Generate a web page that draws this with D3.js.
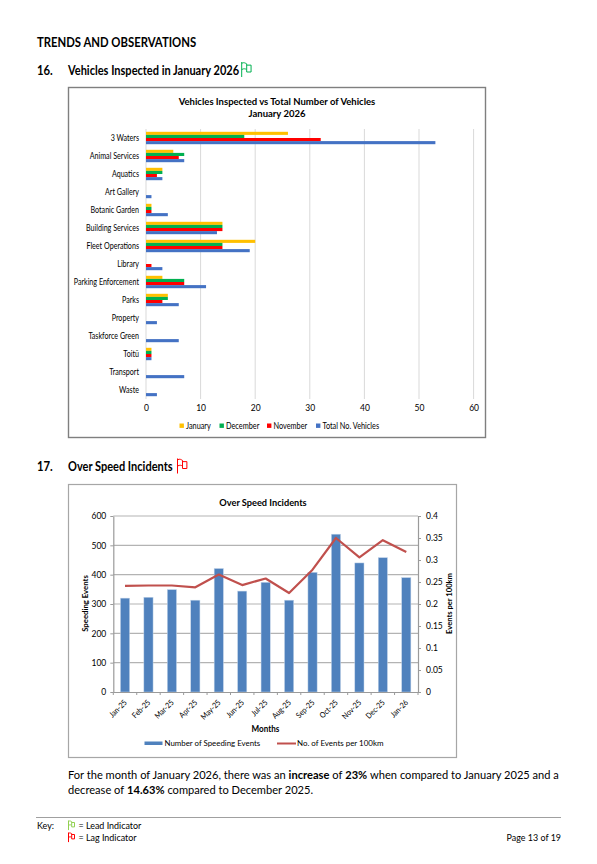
<!DOCTYPE html>
<html><head><meta charset="utf-8">
<script src="https://cdn.jsdelivr.net/npm/d3@7"></script>
<style>
html,body{margin:0;padding:0;background:#fff}
svg{display:block}
text{font-family:Lato,"Open Sans",sans-serif;fill:#000;white-space:pre}
</style></head><body>
<svg id="c" width="597" height="864"></svg>
<script>
const categories=["3 Waters","Animal Services","Aquatics","Art Gallery","Botanic Garden","Building Services","Fleet Operations","Library","Parking Enforcement","Parks","Property","Taskforce Green","Toitū","Transport","Waste"];
const january=[26,5,3,0,1,14,20,0,3,4,0,0,1,0,0];
const december=[18,7,3,0,1,14,14,0,7,4,0,0,1,0,0];
const november=[32,6,2,0,1,14,14,1,7,3,0,0,1,0,0];
const totalVehicles=[53,7,3,1,4,13,19,3,11,6,2,6,1,7,2];
const seriesNames=["January","December","November","Total No. Vehicles"];
const seriesColors=["#ffc000","#00b050","#ff0000","#4472c4"];
const xTicks1=[0,10,20,30,40,50,60];
const months=["Jan-25","Feb-25","Mar-25","Apr-25","May-25","Jun-25","Jul-25","Aug-25","Sep-25","Oct-25","Nov-25","Dec-25","Jan-26"];
const speedingEvents=[320,323,349,313,421,344,374,313,408,538,440,458,390];
const eventsPer100km=[0.241,0.242,0.242,0.238,0.267,0.243,0.258,0.225,0.278,0.35,0.306,0.345,0.318];
const leftTicks=[0,100,200,300,400,500,600];
const rightTicks=[0,0.05,0.1,0.15,0.2,0.25,0.3,0.35,0.4];
const bodyLine1=[["For the month of January 2026, there was an",0],["increase",1],["of",0],["23%",1],["when compared to January 2025 and a",0]];
const bodyLine2=[["decrease of",0],["14.63%",1],["compared to December 2025.",0]];

const svg=d3.select("#c");
const FLAG="M0 12V0M0 1C2 0 3 1 4 1.5V6C3 5.5 2 5 0 6M4 2.5H7.5V8H4V6";
function squeeze(sel,k){sel.each(function(){const l=this.getComputedTextLength();d3.select(this).attr("textLength",(l*k).toFixed(1)).attr("lengthAdjust","spacingAndGlyphs");});}
function txt(x,y,s,o={}){
  const t=svg.append("text").attr("x",x).attr("y",y).attr("font-size",o.size||11)
    .attr("font-weight",o.bold?"700":"400").attr("text-anchor",o.anchor||"start").attr("fill",o.fill||"#000").text(s);
  if(o.rot) t.attr("transform",`rotate(${o.rot} ${x} ${y})`);
  if(o.k) squeeze(t,o.k);
  return t;
}
function runs(x,y,parts,size,k){
  let cx=x;
  parts.forEach(([s,b])=>{
    const t=txt(cx,y,s,{size,bold:!!b});
    const len=t.node().getComputedTextLength();
    squeeze(t,k);
    cx+=len*k+size*0.24;
  });
}
function flag(x,y,c,k){svg.append("path").attr("d",FLAG).attr("transform",`translate(${x},${y}) scale(${k||1})`).attr("fill","none").attr("stroke",c).attr("stroke-width",1/(k||1));}

txt(37,46.5,"TRENDS AND OBSERVATIONS",{size:13,bold:true,k:.87});
txt(37,74.5,"16.",{size:12.6,bold:true,k:.9});
txt(68,74.5,"Vehicles Inspected in January 2026",{size:12.6,bold:true,k:.875});
flag(241.7,62,"#00b050",1.25);
txt(37,471,"17.",{size:12.6,bold:true,k:.9});
txt(68,471,"Over Speed Incidents",{size:12.6,bold:true,k:.875});
flag(177.5,458.5,"#ff0000",1.25);

// Chart 1
svg.append("rect").attr("x",68.5).attr("y",87.5).attr("width",417).attr("height",350).attr("fill","#fff").attr("stroke","#7f7f7f").attr("stroke-width",1.4);
txt(277,105,"Vehicles Inspected vs Total Number of Vehicles",{size:10,bold:true,anchor:"middle",k:.95});
txt(277,117,"January 2026",{size:10,bold:true,anchor:"middle",k:.95});
const x1=d3.scaleLinear().domain([0,60]).range([146,473.6]);
const y1=d3.scaleBand().domain(categories).range([129,399]);
const inner=d3.scaleBand().domain(seriesNames).range([2.8,15.2]);
svg.append("g").selectAll("line").data(xTicks1).join("line").attr("x1",d=>x1(d)).attr("x2",d=>x1(d)).attr("y1",129).attr("y2",399).attr("stroke","#d9d9d9").attr("stroke-width",1);
const ax1=svg.append("g").attr("transform","translate(0,399)").call(d3.axisBottom(x1).tickValues(xTicks1).tickSize(0).tickPadding(6));
ax1.select(".domain").remove();
ax1.selectAll("text").attr("font-size",8.5).attr("fill","#595959").style("font-family","Lato");
const ay1=svg.append("g").attr("transform","translate(146,0)").call(d3.axisLeft(y1).tickSize(0).tickPadding(7));
ay1.select(".domain").remove();
ay1.selectAll("text").attr("font-size",8.5).attr("fill","#595959").style("font-family","Lato").call(squeeze,.84);
[january,december,november,totalVehicles].forEach((vals,i)=>{
  svg.append("g").selectAll("rect").data(vals).join("rect")
    .attr("x",x1(0)).attr("y",(d,j)=>y1(categories[j])+inner(seriesNames[i]))
    .attr("width",d=>x1(d)-x1(0)).attr("height",inner.bandwidth()).attr("fill",seriesColors[i]);
});
const legX=[179.5,219.5,267,316];
seriesNames.forEach((n,i)=>{
  svg.append("rect").attr("x",legX[i]).attr("y",423.5).attr("width",4.4).attr("height",4.4).attr("fill",seriesColors[i]);
  txt(legX[i]+6.5,428.7,n,{size:8.5,fill:"#595959",k:.86});
});

// Chart 2
svg.append("rect").attr("x",68.5).attr("y",484.5).attr("width",388).attr("height",273).attr("fill","#fff").attr("stroke","#a6a6a6").attr("stroke-width",1.2);
txt(263,506,"Over Speed Incidents",{size:10,bold:true,anchor:"middle",k:.92});
const x2=d3.scaleBand().domain(d3.range(months.length)).range([113.3,418]);
const y2=d3.scaleLinear().domain([0,600]).range([692,516]);
const y2r=d3.scaleLinear().domain([0,0.4]).range([692,516]);
svg.append("g").selectAll("line").data(leftTicks.slice(1)).join("line").attr("x1",113.3).attr("x2",418).attr("y1",d=>y2(d)).attr("y2",d=>y2(d)).attr("stroke","#b3b3b3").attr("stroke-width",1.2);
svg.append("g").selectAll("rect").data(speedingEvents).join("rect")
  .attr("x",(d,i)=>x2(i)+x2.bandwidth()/2-4.6).attr("width",9.2).attr("y",d=>y2(d)).attr("height",d=>692-y2(d))
  .attr("fill","#4f81bd").attr("stroke","#c5d6ea").attr("stroke-width",.5);
function styleAxis(a){a.select(".domain").attr("stroke","#9a9a9a").attr("stroke-width",1.2);a.selectAll("line").attr("stroke","#9a9a9a");a.selectAll("text").attr("font-size",8.5).attr("fill","#444").style("font-family","Lato");}
styleAxis(svg.append("g").attr("transform","translate(113.3,0)").call(d3.axisLeft(y2).tickValues(leftTicks).tickSize(3).tickPadding(4).tickSizeOuter(0)));
styleAxis(svg.append("g").attr("transform","translate(418,0)").call(d3.axisRight(y2r).tickValues(rightTicks).tickFormat(d3.format("~g")).tickSize(3).tickPadding(5).tickSizeOuter(0)));
const axb=svg.append("g").attr("transform","translate(0,692)").call(d3.axisBottom(x2).tickValues([]).tickSizeOuter(0));
axb.select(".domain").attr("stroke","#9a9a9a").attr("stroke-width",1.2);
svg.append("g").selectAll("line").data(d3.range(months.length+1)).join("line")
  .attr("x1",i=>113.3+i*x2.step()).attr("x2",i=>113.3+i*x2.step()).attr("y1",692).attr("y2",695).attr("stroke","#9a9a9a");
months.forEach((m,i)=>{const cx=x2(i)+x2.bandwidth()/2+2.5;txt(cx,703,m,{size:8,anchor:"end",rot:-45,fill:"#444",k:.88});});
svg.append("path").datum(eventsPer100km).attr("fill","none").attr("stroke","#c0504d").attr("stroke-width",2.2).attr("stroke-linejoin","round")
  .attr("d",d3.line().x((d,i)=>x2(i)+x2.bandwidth()/2).y(d=>y2r(d)));
txt(88,603.5,"Speeding Events",{size:8,bold:true,anchor:"middle",rot:-90,k:.97});
txt(452,603.5,"Events per 100km",{size:8,bold:true,anchor:"middle",rot:-90,k:.95});
txt(265.5,731.5,"Months",{size:8.5,bold:true,anchor:"middle",k:.95});
svg.append("rect").attr("x",144.5).attr("y",741.5).attr("width",18).attr("height",3.5).attr("fill","#4f81bd");
txt(164.5,746,"Number of Speeding Events",{size:8.2,fill:"#444",k:.96});
svg.append("line").attr("x1",277).attr("x2",296).attr("y1",743.5).attr("y2",743.5).attr("stroke","#c0504d").attr("stroke-width",2);
txt(297,746,"No. of Events per 100km",{size:8.2,fill:"#444",k:.97});

// Body and footer
runs(68,779,bodyLine1,12,.925);
runs(68,794,bodyLine2,12,.925);
svg.append("line").attr("x1",36).attr("x2",561).attr("y1",817.5).attr("y2",817.5).attr("stroke","#a0a0a0").attr("stroke-width",1);
txt(37,828.5,"Key:",{size:9.6,k:.93});
flag(68.5,820.5,"#92d050",.8);
txt(78.5,828.5,"= Lead Indicator",{size:9.6,k:.93});
flag(68.5,832.5,"#ff0000",.8);
txt(78.5,840.5,"= Lag Indicator",{size:9.6,k:.93});
txt(561,840.5,"Page 13 of 19",{size:9.6,anchor:"end",k:.93});
</script>
</body></html>
